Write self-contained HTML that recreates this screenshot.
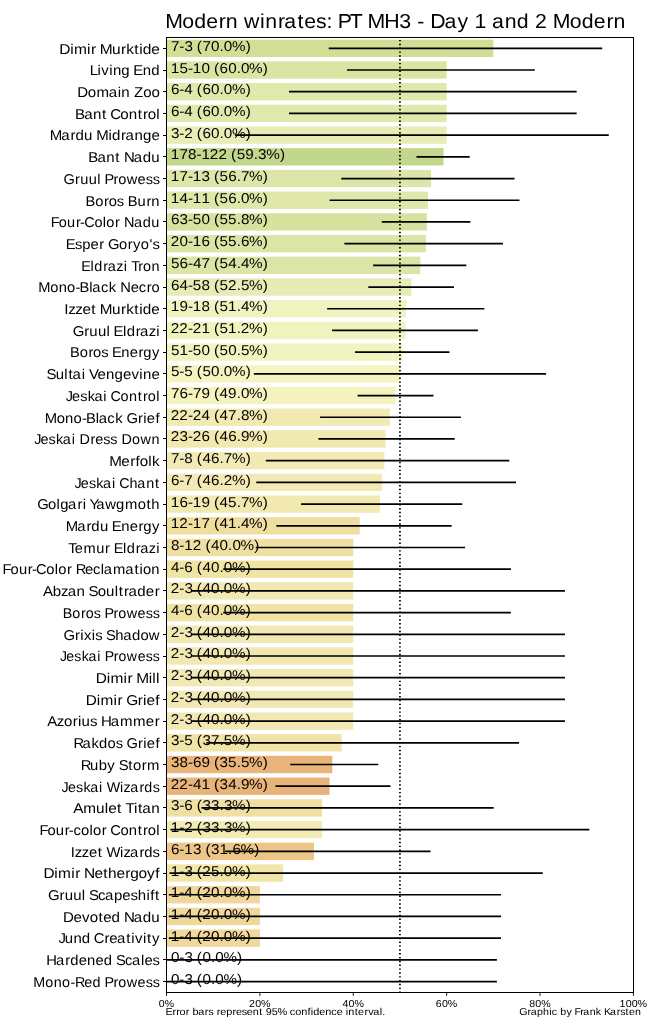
<!DOCTYPE html><html><head><meta charset="utf-8"><style>html,body{margin:0;padding:0;background:#fff;width:650px;height:1029px;overflow:hidden}svg{display:block;will-change:transform}text{font-family:"Liberation Sans",sans-serif;fill:#000;text-rendering:geometricPrecision}</style></head><body>
<svg width="650" height="1029" viewBox="0 0 650 1029">
<rect x="0" y="0" width="650" height="1029" fill="#fff"/>
<rect x="166.50" y="39.63" width="326.83" height="17.36" fill="#d1de94"/>
<rect x="166.50" y="61.33" width="280.14" height="17.36" fill="#dbe5a3"/>
<rect x="166.50" y="83.04" width="280.14" height="17.36" fill="#e0e8ab"/>
<rect x="166.50" y="104.74" width="280.14" height="17.36" fill="#e0e8ab"/>
<rect x="166.50" y="126.44" width="280.14" height="17.36" fill="#e8edb6"/>
<rect x="166.50" y="148.15" width="277.03" height="17.36" fill="#c2d68c"/>
<rect x="166.50" y="169.85" width="264.58" height="17.36" fill="#dde6a8"/>
<rect x="166.50" y="191.55" width="261.46" height="17.36" fill="#dfe7aa"/>
<rect x="166.50" y="213.26" width="260.31" height="17.36" fill="#d8e29e"/>
<rect x="166.50" y="234.96" width="259.39" height="17.36" fill="#dde5a6"/>
<rect x="166.50" y="256.66" width="253.85" height="17.36" fill="#dde5a6"/>
<rect x="166.50" y="278.37" width="244.93" height="17.36" fill="#e7ecb6"/>
<rect x="166.50" y="300.07" width="239.76" height="17.36" fill="#f0f2bf"/>
<rect x="166.50" y="321.77" width="238.88" height="17.36" fill="#eff3be"/>
<rect x="166.50" y="343.47" width="235.76" height="17.36" fill="#f2f4c0"/>
<rect x="166.50" y="365.18" width="233.45" height="17.36" fill="#f5f3c0"/>
<rect x="166.50" y="386.88" width="228.93" height="17.36" fill="#f4f3c0"/>
<rect x="166.50" y="408.58" width="223.30" height="17.36" fill="#f1eab2"/>
<rect x="166.50" y="430.29" width="219.16" height="17.36" fill="#f2e9b0"/>
<rect x="166.50" y="451.99" width="217.89" height="17.36" fill="#f2eab4"/>
<rect x="166.50" y="473.69" width="215.49" height="17.36" fill="#f2eab4"/>
<rect x="166.50" y="495.40" width="213.44" height="17.36" fill="#f2e9b0"/>
<rect x="166.50" y="517.10" width="193.20" height="17.36" fill="#f0dea0"/>
<rect x="166.50" y="538.80" width="186.76" height="17.36" fill="#efe0a2"/>
<rect x="166.50" y="560.51" width="186.76" height="17.36" fill="#f0e4a5"/>
<rect x="166.50" y="582.21" width="186.76" height="17.36" fill="#f2e8b4"/>
<rect x="166.50" y="603.91" width="186.76" height="17.36" fill="#f0e4a5"/>
<rect x="166.50" y="625.62" width="186.76" height="17.36" fill="#f2e8b4"/>
<rect x="166.50" y="647.32" width="186.76" height="17.36" fill="#f2e8b4"/>
<rect x="166.50" y="669.02" width="186.76" height="17.36" fill="#f2e8b4"/>
<rect x="166.50" y="690.73" width="186.76" height="17.36" fill="#f2e8b4"/>
<rect x="166.50" y="712.43" width="186.76" height="17.36" fill="#f2e8b4"/>
<rect x="166.50" y="734.13" width="175.09" height="17.36" fill="#f1e4a8"/>
<rect x="166.50" y="755.84" width="165.81" height="17.36" fill="#e9b47a"/>
<rect x="166.50" y="777.54" width="163.04" height="17.36" fill="#e8b37a"/>
<rect x="166.50" y="799.24" width="155.63" height="17.36" fill="#f0dfa2"/>
<rect x="166.50" y="820.94" width="155.63" height="17.36" fill="#f3ebb4"/>
<rect x="166.50" y="842.65" width="147.44" height="17.36" fill="#ecc587"/>
<rect x="166.50" y="864.35" width="116.72" height="17.36" fill="#f1e5a8"/>
<rect x="166.50" y="886.05" width="93.38" height="17.36" fill="#f0d89c"/>
<rect x="166.50" y="907.76" width="93.38" height="17.36" fill="#f0d89c"/>
<rect x="166.50" y="929.46" width="93.38" height="17.36" fill="#f0d89c"/>
<line x1="399.95" y1="37.46" x2="399.95" y2="992.40" stroke="#000" stroke-width="1.8" stroke-dasharray="1.4 2.437" stroke-dashoffset="1.397"/>
<text transform="scale(1.07191,1)" x="159.45 167.33 172.02 179.97 183.66 188.85 196.87 204.83 208.85 216.45 229.17" y="50.80" font-size="14.2">7-3 (70.0%)</text>
<text transform="scale(1.07410,1)" x="159.06 167.07 174.95 179.53 187.59 195.54 199.23 204.43 212.40 220.35 224.36 231.94 244.65" y="72.50" font-size="14.2">15-10 (60.0%)</text>
<text transform="scale(1.07191,1)" x="159.48 167.33 172.00 179.97 183.66 188.88 196.87 204.83 208.85 216.45 229.17" y="94.21" font-size="14.2">6-4 (60.0%)</text>
<text transform="scale(1.07191,1)" x="159.48 167.33 172.00 179.97 183.66 188.88 196.87 204.83 208.85 216.45 229.17" y="115.91" font-size="14.2">6-4 (60.0%)</text>
<text transform="scale(1.07191,1)" x="159.50 167.33 171.83 179.97 183.66 188.88 196.87 204.83 208.85 216.45 229.17" y="137.61" font-size="14.2">3-2 (60.0%)</text>
<text transform="scale(1.07563,1)" x="158.83 166.85 174.84 182.66 187.23 195.11 203.07 211.18 214.86 220.01 227.98 235.96 239.98 247.52 260.22" y="159.32" font-size="14.2">178-122 (59.3%)</text>
<text transform="scale(1.07410,1)" x="159.06 167.09 174.95 179.53 187.61 195.54 199.23 204.38 212.40 220.35 224.33 231.94 244.65" y="181.02" font-size="14.2">17-13 (56.7%)</text>
<text transform="scale(1.07410,1)" x="159.06 167.12 174.95 179.53 187.50 195.54 199.23 204.38 212.40 220.35 224.36 231.94 244.65" y="202.72" font-size="14.2">14-11 (56.0%)</text>
<text transform="scale(1.07410,1)" x="159.14 167.14 174.95 179.57 187.59 195.54 199.23 204.38 212.36 220.35 224.36 231.94 244.65" y="224.43" font-size="14.2">63-50 (55.8%)</text>
<text transform="scale(1.07410,1)" x="158.98 167.12 174.95 179.53 187.58 195.54 199.23 204.38 212.36 220.35 224.36 231.94 244.65" y="246.13" font-size="14.2">20-16 (55.6%)</text>
<text transform="scale(1.07410,1)" x="159.10 167.12 174.95 179.61 187.56 195.54 199.23 204.38 212.41 220.35 224.36 231.94 244.65" y="267.83" font-size="14.2">56-47 (54.4%)</text>
<text transform="scale(1.07410,1)" x="159.14 167.12 174.95 179.57 187.59 195.54 199.23 204.38 212.24 220.35 224.31 231.94 244.65" y="289.54" font-size="14.2">64-58 (52.5%)</text>
<text transform="scale(1.07410,1)" x="159.06 167.08 174.95 179.53 187.59 195.54 199.23 204.38 212.32 220.35 224.36 231.94 244.65" y="311.24" font-size="14.2">19-18 (51.4%)</text>
<text transform="scale(1.07410,1)" x="158.98 166.95 174.95 179.45 187.50 195.54 199.23 204.38 212.32 220.35 224.19 231.94 244.65" y="332.94" font-size="14.2">22-21 (51.2%)</text>
<text transform="scale(1.07410,1)" x="159.10 167.04 174.95 179.57 187.59 195.54 199.23 204.38 212.40 220.35 224.31 231.94 244.65" y="354.64" font-size="14.2">51-50 (50.5%)</text>
<text transform="scale(1.07191,1)" x="159.43 167.33 171.95 179.97 183.66 188.83 196.87 204.83 208.85 216.45 229.17" y="376.35" font-size="14.2">5-5 (50.0%)</text>
<text transform="scale(1.07410,1)" x="159.12 167.12 174.95 179.59 187.55 195.54 199.23 204.43 212.36 220.35 224.36 231.94 244.65" y="398.05" font-size="14.2">76-79 (49.0%)</text>
<text transform="scale(1.07410,1)" x="158.98 166.95 174.95 179.45 187.59 195.54 199.23 204.43 212.38 220.35 224.36 231.94 244.65" y="419.75" font-size="14.2">22-24 (47.8%)</text>
<text transform="scale(1.07410,1)" x="158.98 167.14 174.95 179.45 187.58 195.54 199.23 204.43 212.40 220.35 224.32 231.94 244.65" y="441.46" font-size="14.2">23-26 (46.9%)</text>
<text transform="scale(1.07191,1)" x="159.45 167.33 172.00 179.97 183.66 188.88 196.86 204.83 208.82 216.45 229.17" y="463.16" font-size="14.2">7-8 (46.7%)</text>
<text transform="scale(1.07191,1)" x="159.48 167.33 171.97 179.97 183.66 188.88 196.86 204.83 208.68 216.45 229.17" y="484.86" font-size="14.2">6-7 (46.2%)</text>
<text transform="scale(1.07410,1)" x="159.06 167.12 174.95 179.53 187.55 195.54 199.23 204.43 212.36 220.35 224.33 231.94 244.65" y="506.57" font-size="14.2">16-19 (45.7%)</text>
<text transform="scale(1.07410,1)" x="159.06 166.95 174.95 179.53 187.56 195.54 199.23 204.43 212.32 220.35 224.36 231.94 244.65" y="528.27" font-size="14.2">12-17 (41.4%)</text>
<text transform="scale(1.07311,1)" x="159.30 167.14 171.72 179.62 187.74 191.43 196.64 204.62 212.58 216.59 224.18 236.89" y="549.97" font-size="14.2">8-12 (40.0%)</text>
<text transform="scale(1.07191,1)" x="159.48 167.33 172.00 179.97 183.66 188.88 196.87 204.83 208.85 216.45 229.17" y="571.68" font-size="14.2">4-6 (40.0%)</text>
<text transform="scale(1.07191,1)" x="159.31 167.33 172.02 179.97 183.66 188.88 196.87 204.83 208.85 216.45 229.17" y="593.38" font-size="14.2">2-3 (40.0%)</text>
<text transform="scale(1.07191,1)" x="159.48 167.33 172.00 179.97 183.66 188.88 196.87 204.83 208.85 216.45 229.17" y="615.08" font-size="14.2">4-6 (40.0%)</text>
<text transform="scale(1.07191,1)" x="159.31 167.33 172.02 179.97 183.66 188.88 196.87 204.83 208.85 216.45 229.17" y="636.79" font-size="14.2">2-3 (40.0%)</text>
<text transform="scale(1.07191,1)" x="159.31 167.33 172.02 179.97 183.66 188.88 196.87 204.83 208.85 216.45 229.17" y="658.49" font-size="14.2">2-3 (40.0%)</text>
<text transform="scale(1.07191,1)" x="159.31 167.33 172.02 179.97 183.66 188.88 196.87 204.83 208.85 216.45 229.17" y="680.19" font-size="14.2">2-3 (40.0%)</text>
<text transform="scale(1.07191,1)" x="159.31 167.33 172.02 179.97 183.66 188.88 196.87 204.83 208.85 216.45 229.17" y="701.90" font-size="14.2">2-3 (40.0%)</text>
<text transform="scale(1.07191,1)" x="159.31 167.33 172.02 179.97 183.66 188.88 196.87 204.83 208.85 216.45 229.17" y="723.60" font-size="14.2">2-3 (40.0%)</text>
<text transform="scale(1.07191,1)" x="159.50 167.33 171.95 179.97 183.66 188.90 196.84 204.83 208.80 216.45 229.17" y="745.30" font-size="14.2">3-5 (37.5%)</text>
<text transform="scale(1.07410,1)" x="159.17 167.12 174.95 179.61 187.55 195.54 199.23 204.45 212.36 220.35 224.31 231.94 244.65" y="767.00" font-size="14.2">38-69 (35.5%)</text>
<text transform="scale(1.07410,1)" x="158.98 166.95 174.95 179.61 187.50 195.54 199.23 204.45 212.41 220.35 224.32 231.94 244.65" y="788.71" font-size="14.2">22-41 (34.9%)</text>
<text transform="scale(1.07191,1)" x="159.50 167.33 172.00 179.97 183.66 188.90 196.89 204.83 208.87 216.45 229.17" y="810.41" font-size="14.2">3-6 (33.3%)</text>
<text transform="scale(1.07191,1)" x="159.40 167.33 171.83 179.97 183.66 188.90 196.89 204.83 208.87 216.45 229.17" y="832.11" font-size="14.2">1-2 (33.3%)</text>
<text transform="scale(1.07311,1)" x="159.29 167.14 171.72 179.80 187.74 191.43 196.66 204.54 212.58 216.59 224.18 236.89" y="853.82" font-size="14.2">6-13 (31.6%)</text>
<text transform="scale(1.07191,1)" x="159.40 167.33 172.02 179.97 183.66 188.71 196.82 204.83 208.85 216.45 229.17" y="875.52" font-size="14.2">1-3 (25.0%)</text>
<text transform="scale(1.07191,1)" x="159.40 167.33 172.00 179.97 183.66 188.71 196.87 204.83 208.85 216.45 229.17" y="897.22" font-size="14.2">1-4 (20.0%)</text>
<text transform="scale(1.07191,1)" x="159.40 167.33 172.00 179.97 183.66 188.71 196.87 204.83 208.85 216.45 229.17" y="918.93" font-size="14.2">1-4 (20.0%)</text>
<text transform="scale(1.07191,1)" x="159.40 167.33 172.00 179.97 183.66 188.71 196.87 204.83 208.85 216.45 229.17" y="940.63" font-size="14.2">1-4 (20.0%)</text>
<text transform="scale(1.07043,1)" x="159.70 167.56 172.26 180.22 183.92 189.15 197.12 201.14 208.76 221.49" y="962.33" font-size="14.2">0-3 (0.0%)</text>
<text transform="scale(1.07043,1)" x="159.70 167.56 172.26 180.22 183.92 189.15 197.12 201.14 208.76 221.49" y="984.04" font-size="14.2">0-3 (0.0%)</text>
<line x1="328.77" y1="48.31" x2="602.24" y2="48.31" stroke="#000" stroke-width="1.7"/>
<line x1="347.03" y1="70.01" x2="534.77" y2="70.01" stroke="#000" stroke-width="1.7"/>
<line x1="289.00" y1="91.72" x2="576.65" y2="91.72" stroke="#000" stroke-width="1.7"/>
<line x1="289.00" y1="113.42" x2="576.65" y2="113.42" stroke="#000" stroke-width="1.7"/>
<line x1="234.96" y1="135.12" x2="608.77" y2="135.12" stroke="#000" stroke-width="1.7"/>
<line x1="416.47" y1="156.83" x2="469.71" y2="156.83" stroke="#000" stroke-width="1.7"/>
<line x1="341.25" y1="178.53" x2="514.52" y2="178.53" stroke="#000" stroke-width="1.7"/>
<line x1="329.58" y1="200.23" x2="519.47" y2="200.23" stroke="#000" stroke-width="1.7"/>
<line x1="381.77" y1="221.94" x2="470.41" y2="221.94" stroke="#000" stroke-width="1.7"/>
<line x1="344.38" y1="243.64" x2="502.97" y2="243.64" stroke="#000" stroke-width="1.7"/>
<line x1="373.15" y1="265.34" x2="466.34" y2="265.34" stroke="#000" stroke-width="1.7"/>
<line x1="368.31" y1="287.05" x2="453.98" y2="287.05" stroke="#000" stroke-width="1.7"/>
<line x1="327.11" y1="308.75" x2="484.36" y2="308.75" stroke="#000" stroke-width="1.7"/>
<line x1="332.08" y1="330.45" x2="477.90" y2="330.45" stroke="#000" stroke-width="1.7"/>
<line x1="354.96" y1="352.16" x2="449.42" y2="352.16" stroke="#000" stroke-width="1.7"/>
<line x1="253.85" y1="373.86" x2="546.05" y2="373.86" stroke="#000" stroke-width="1.7"/>
<line x1="357.58" y1="395.56" x2="433.46" y2="395.56" stroke="#000" stroke-width="1.7"/>
<line x1="320.05" y1="417.27" x2="460.90" y2="417.27" stroke="#000" stroke-width="1.7"/>
<line x1="318.40" y1="438.97" x2="454.70" y2="438.97" stroke="#000" stroke-width="1.7"/>
<line x1="265.79" y1="460.67" x2="509.27" y2="460.67" stroke="#000" stroke-width="1.7"/>
<line x1="256.25" y1="482.38" x2="516.05" y2="482.38" stroke="#000" stroke-width="1.7"/>
<line x1="301.09" y1="504.08" x2="462.30" y2="504.08" stroke="#000" stroke-width="1.7"/>
<line x1="276.33" y1="525.78" x2="451.61" y2="525.78" stroke="#000" stroke-width="1.7"/>
<line x1="255.77" y1="547.48" x2="465.06" y2="547.48" stroke="#000" stroke-width="1.7"/>
<line x1="223.25" y1="569.19" x2="510.90" y2="569.19" stroke="#000" stroke-width="1.7"/>
<line x1="191.13" y1="590.89" x2="564.94" y2="590.89" stroke="#000" stroke-width="1.7"/>
<line x1="223.25" y1="612.59" x2="510.90" y2="612.59" stroke="#000" stroke-width="1.7"/>
<line x1="191.13" y1="634.30" x2="564.94" y2="634.30" stroke="#000" stroke-width="1.7"/>
<line x1="191.13" y1="656.00" x2="564.94" y2="656.00" stroke="#000" stroke-width="1.7"/>
<line x1="191.13" y1="677.70" x2="564.94" y2="677.70" stroke="#000" stroke-width="1.7"/>
<line x1="191.13" y1="699.41" x2="564.94" y2="699.41" stroke="#000" stroke-width="1.7"/>
<line x1="191.13" y1="721.11" x2="564.94" y2="721.11" stroke="#000" stroke-width="1.7"/>
<line x1="206.30" y1="742.81" x2="519.07" y2="742.81" stroke="#000" stroke-width="1.7"/>
<line x1="290.23" y1="764.52" x2="378.25" y2="764.52" stroke="#000" stroke-width="1.7"/>
<line x1="275.46" y1="786.22" x2="390.49" y2="786.22" stroke="#000" stroke-width="1.7"/>
<line x1="201.45" y1="807.92" x2="493.66" y2="807.92" stroke="#000" stroke-width="1.7"/>
<line x1="170.42" y1="829.63" x2="589.37" y2="829.63" stroke="#000" stroke-width="1.7"/>
<line x1="225.22" y1="851.33" x2="430.53" y2="851.33" stroke="#000" stroke-width="1.7"/>
<line x1="169.45" y1="873.03" x2="542.77" y2="873.03" stroke="#000" stroke-width="1.7"/>
<line x1="168.86" y1="894.74" x2="501.00" y2="894.74" stroke="#000" stroke-width="1.7"/>
<line x1="168.86" y1="916.44" x2="501.00" y2="916.44" stroke="#000" stroke-width="1.7"/>
<line x1="168.86" y1="938.14" x2="501.00" y2="938.14" stroke="#000" stroke-width="1.7"/>
<line x1="166.50" y1="959.85" x2="496.88" y2="959.85" stroke="#000" stroke-width="1.7"/>
<line x1="166.50" y1="981.55" x2="496.88" y2="981.55" stroke="#000" stroke-width="1.7"/>
<rect x="166.5" y="37.5" width="467" height="955" fill="none" stroke="#000" stroke-width="1"/>
<line x1="163" y1="48.50" x2="166.50" y2="48.50" stroke="#000" stroke-width="1"/>
<text transform="scale(1.09279,1)" x="54.23 64.24 67.63 79.65 83.30 87.97 91.30 102.45 110.69 115.45 122.91 127.47 130.65 138.43" y="53.60" font-size="14.2">Dimir Murktide</text>
<line x1="163" y1="70.50" x2="166.50" y2="70.50" stroke="#000" stroke-width="1"/>
<text transform="scale(1.05295,1)" x="85.21 92.68 96.25 103.78 107.26 115.26 123.39 126.63 135.59 143.60" y="75.30" font-size="14.2">Living End</text>
<line x1="163" y1="91.50" x2="166.50" y2="91.50" stroke="#000" stroke-width="1"/>
<text transform="scale(1.06198,1)" x="72.79 82.72 90.82 102.31 110.82 114.24 122.22 126.20 134.81 142.56" y="97.01" font-size="14.2">Domain Zoo</text>
<line x1="163" y1="113.50" x2="166.50" y2="113.50" stroke="#000" stroke-width="1"/>
<text transform="scale(1.06625,1)" x="70.40 78.92 87.30 95.69 100.20 103.38 112.90 120.78 129.16 134.09 138.47 146.45" y="118.71" font-size="14.2">Bant Control</text>
<line x1="163" y1="135.50" x2="166.50" y2="135.50" stroke="#000" stroke-width="1"/>
<text transform="scale(1.05872,1)" x="47.02 57.86 66.66 71.21 79.31 87.36 90.92 102.50 105.86 114.37 118.57 127.01 134.98 143.01" y="140.41" font-size="14.2">Mardu Midrange</text>
<line x1="163" y1="156.50" x2="166.50" y2="156.50" stroke="#000" stroke-width="1"/>
<text transform="scale(1.05670,1)" x="83.62 92.21 100.67 109.11 113.67 117.29 126.64 135.01 143.12" y="162.12" font-size="14.2">Bant Nadu</text>
<line x1="163" y1="178.50" x2="166.50" y2="178.50" stroke="#000" stroke-width="1"/>
<text transform="scale(1.02709,1)" x="61.92 73.09 78.07 86.37 94.74 98.25 101.72 110.54 115.12 123.30 133.89 141.80 148.62" y="183.82" font-size="14.2">Gruul Prowess</text>
<line x1="163" y1="200.50" x2="166.50" y2="200.50" stroke="#000" stroke-width="1"/>
<text transform="scale(1.03853,1)" x="82.42 91.64 100.08 104.61 112.43 119.35 123.05 132.39 141.00 145.75" y="205.52" font-size="14.2">Boros Burn</text>
<line x1="163" y1="221.50" x2="166.50" y2="221.50" stroke="#000" stroke-width="1"/>
<text transform="scale(1.02400,1)" x="49.61 57.36 65.51 74.23 78.22 82.33 92.20 100.41 103.88 112.42 117.36 121.20 130.82 139.44 147.82" y="227.23" font-size="14.2">Four-Color Nadu</text>
<line x1="163" y1="243.50" x2="166.50" y2="243.50" stroke="#000" stroke-width="1"/>
<text transform="scale(1.04109,1)" x="63.17 71.95 79.00 87.02 95.44 100.31 103.83 114.36 122.78 127.83 135.22 143.53 146.58" y="248.93" font-size="14.2">Esper Goryo&#39;s</text>
<line x1="163" y1="265.50" x2="166.50" y2="265.50" stroke="#000" stroke-width="1"/>
<text transform="scale(1.01693,1)" x="79.89 89.11 92.70 101.52 105.96 114.45 121.67 125.21 128.99 136.02 140.67 148.93" y="270.63" font-size="14.2">Eldrazi Tron</text>
<line x1="163" y1="287.50" x2="166.50" y2="287.50" stroke="#000" stroke-width="1"/>
<text transform="scale(1.03659,1)" x="36.95 48.49 56.59 64.65 72.78 76.71 86.15 89.05 97.34 104.90 112.22 115.97 126.03 133.80 141.61 146.15" y="292.34" font-size="14.2">Mono-Black Necro</text>
<line x1="163" y1="308.50" x2="166.50" y2="308.50" stroke="#000" stroke-width="1"/>
<text transform="scale(1.07692,1)" x="59.78 63.39 69.94 76.62 84.83 89.30 92.73 104.01 112.36 117.21 124.75 129.38 132.63 140.53" y="314.04" font-size="14.2">Izzet Murktide</text>
<line x1="163" y1="330.50" x2="166.50" y2="330.50" stroke="#000" stroke-width="1"/>
<text transform="scale(1.05217,1)" x="69.15 80.10 84.95 93.05 101.27 104.68 107.93 116.96 120.36 128.92 133.16 141.39 148.44" y="335.74" font-size="14.2">Gruul Eldrazi</text>
<line x1="163" y1="352.50" x2="166.50" y2="352.50" stroke="#000" stroke-width="1"/>
<text transform="scale(1.03787,1)" x="67.52 76.75 85.19 89.72 97.55 104.47 107.81 116.88 124.97 133.41 138.07 146.48" y="357.44" font-size="14.2">Boros Energy</text>
<line x1="163" y1="373.50" x2="166.50" y2="373.50" stroke="#000" stroke-width="1"/>
<text transform="scale(1.05644,1)" x="43.97 52.73 60.93 64.77 68.73 77.27 80.66 84.27 92.37 100.32 108.31 116.36 124.41 131.93 135.38 143.33" y="379.15" font-size="14.2">Sultai Vengevine</text>
<line x1="163" y1="395.50" x2="166.50" y2="395.50" stroke="#000" stroke-width="1"/>
<text transform="scale(1.01894,1)" x="64.58 70.79 78.76 86.02 92.66 101.42 104.95 108.42 118.33 126.57 135.26 140.45 145.08 153.32" y="400.85" font-size="14.2">Jeskai Control</text>
<line x1="163" y1="417.50" x2="166.50" y2="417.50" stroke="#000" stroke-width="1"/>
<text transform="scale(1.04454,1)" x="42.85 54.30 62.35 70.34 78.43 82.30 91.70 94.56 102.79 110.29 117.57 121.06 132.08 137.08 140.47 148.81" y="422.55" font-size="14.2">Mono-Black Grief</text>
<line x1="163" y1="438.50" x2="166.50" y2="438.50" stroke="#000" stroke-width="1"/>
<text transform="scale(1.01479,1)" x="33.67 39.91 47.91 55.20 61.87 70.65 74.20 78.27 89.09 93.79 101.79 108.70 115.74 119.81 130.13 138.42 149.25" y="444.26" font-size="14.2">Jeskai Dress Down</text>
<line x1="163" y1="460.50" x2="166.50" y2="460.50" stroke="#000" stroke-width="1"/>
<text transform="scale(1.07189,1)" x="101.94 113.20 121.41 126.53 130.45 138.40 141.87" y="465.96" font-size="14.2">Merfolk</text>
<line x1="163" y1="482.50" x2="166.50" y2="482.50" stroke="#000" stroke-width="1"/>
<text transform="scale(1.01127,1)" x="73.66 79.93 87.95 95.27 101.96 110.76 114.32 117.85 127.97 135.75 144.57 153.30" y="487.66" font-size="14.2">Jeskai Chant</text>
<line x1="163" y1="504.50" x2="166.50" y2="504.50" stroke="#000" stroke-width="1"/>
<text transform="scale(1.04428,1)" x="35.59 46.09 54.19 57.63 65.23 74.14 79.14 82.57 85.79 92.18 100.71 111.18 119.68 131.83 140.23 144.90" y="509.37" font-size="14.2">Golgari Yawgmoth</text>
<line x1="163" y1="525.50" x2="166.50" y2="525.50" stroke="#000" stroke-width="1"/>
<text transform="scale(1.04910,1)" x="62.66 73.58 82.46 87.05 95.23 103.33 106.60 115.58 123.59 131.96 136.55 144.88" y="531.07" font-size="14.2">Mardu Energy</text>
<line x1="163" y1="547.50" x2="166.50" y2="547.50" stroke="#000" stroke-width="1"/>
<text transform="scale(1.02945,1)" x="66.41 72.61 81.04 93.45 102.12 107.04 110.43 119.58 123.10 131.83 136.19 144.59 151.75" y="552.77" font-size="14.2">Temur Eldrazi</text>
<line x1="163" y1="569.50" x2="166.50" y2="569.50" stroke="#000" stroke-width="1"/>
<text transform="scale(1.03777,1)" x="2.51 10.17 18.21 26.83 30.77 34.79 44.54 52.67 56.07 64.52 69.40 73.00 81.92 89.68 97.17 100.07 108.93 120.64 129.59 134.37 137.76 145.86" y="574.48" font-size="14.2">Four-Color Reclamation</text>
<line x1="163" y1="590.50" x2="166.50" y2="590.50" stroke="#000" stroke-width="1"/>
<text transform="scale(1.05953,1)" x="40.61 49.84 57.59 63.85 72.29 80.28 83.63 92.26 100.14 108.32 112.14 117.11 121.31 129.65 137.68 145.98" y="596.18" font-size="14.2">Abzan Soultrader</text>
<line x1="163" y1="612.50" x2="166.50" y2="612.50" stroke="#000" stroke-width="1"/>
<text transform="scale(1.01403,1)" x="61.79 71.21 79.83 84.49 92.49 99.54 103.10 111.99 116.66 124.95 135.67 143.67 150.58" y="617.88" font-size="14.2">Boros Prowess</text>
<line x1="163" y1="634.50" x2="166.50" y2="634.50" stroke="#000" stroke-width="1"/>
<text transform="scale(1.04583,1)" x="60.63 71.63 76.63 80.21 87.81 91.06 97.94 101.37 110.25 117.76 126.22 134.30 142.31" y="639.59" font-size="14.2">Grixis Shadow</text>
<line x1="163" y1="656.50" x2="166.50" y2="656.50" stroke="#000" stroke-width="1"/>
<text transform="scale(0.99026,1)" x="60.48 66.89 75.07 82.56 89.39 98.33 101.97 105.69 114.75 119.55 128.07 139.02 147.20 154.28" y="661.29" font-size="14.2">Jeskai Prowess</text>
<line x1="163" y1="677.50" x2="166.50" y2="677.50" stroke="#000" stroke-width="1"/>
<text transform="scale(1.08897,1)" x="87.92 97.95 101.37 113.41 117.08 121.77 125.12 136.50 139.93 143.36" y="682.99" font-size="14.2">Dimir Mill</text>
<line x1="163" y1="699.50" x2="166.50" y2="699.50" stroke="#000" stroke-width="1"/>
<text transform="scale(1.08252,1)" x="79.34 89.41 92.88 104.96 108.66 113.37 116.62 127.35 132.21 135.41 143.52" y="704.70" font-size="14.2">Dimir Grief</text>
<line x1="163" y1="721.50" x2="166.50" y2="721.50" stroke="#000" stroke-width="1"/>
<text transform="scale(1.05862,1)" x="44.73 53.67 60.43 68.73 73.68 77.06 84.92 91.73 95.37 104.73 113.37 125.75 137.80 146.10" y="726.40" font-size="14.2">Azorius Hammer</text>
<line x1="163" y1="742.50" x2="166.50" y2="742.50" stroke="#000" stroke-width="1"/>
<text transform="scale(1.03579,1)" x="70.90 79.58 88.30 95.63 103.80 111.65 118.58 122.13 133.22 138.25 141.69 150.09" y="748.10" font-size="14.2">Rakdos Grief</text>
<line x1="163" y1="764.50" x2="166.50" y2="764.50" stroke="#000" stroke-width="1"/>
<text transform="scale(1.04679,1)" x="77.12 86.04 94.29 102.49 109.92 113.35 122.60 127.11 135.50 140.42" y="769.81" font-size="14.2">Ruby Storm</text>
<line x1="163" y1="786.50" x2="166.50" y2="786.50" stroke="#000" stroke-width="1"/>
<text transform="scale(1.00483,1)" x="61.29 67.60 75.67 83.04 89.78 98.62 102.21 106.22 119.54 123.00 129.64 138.84 143.68 151.99" y="791.51" font-size="14.2">Jeskai Wizards</text>
<line x1="163" y1="807.50" x2="166.50" y2="807.50" stroke="#000" stroke-width="1"/>
<text transform="scale(1.07852,1)" x="67.89 77.09 89.02 97.10 100.33 108.52 112.98 116.41 124.33 128.07 131.91 140.20" y="813.21" font-size="14.2">Amulet Titan</text>
<line x1="163" y1="829.50" x2="166.50" y2="829.50" stroke="#000" stroke-width="1"/>
<text transform="scale(1.04475,1)" x="37.76 45.37 53.36 61.93 65.84 70.36 77.60 85.70 89.05 97.45 102.30 105.61 115.31 123.35 131.86 136.91 141.40 149.49" y="834.91" font-size="14.2">Four-color Control</text>
<line x1="163" y1="851.50" x2="166.50" y2="851.50" stroke="#000" stroke-width="1"/>
<text transform="scale(1.04198,1)" x="67.98 71.76 78.54 85.46 93.87 98.49 102.19 115.22 118.49 124.86 133.79 138.42 146.45" y="856.62" font-size="14.2">Izzet Wizards</text>
<line x1="163" y1="873.50" x2="166.50" y2="873.50" stroke="#000" stroke-width="1"/>
<text transform="scale(1.08799,1)" x="39.89 49.92 53.35 65.40 69.07 73.76 77.19 86.83 94.97 99.37 107.11 115.23 119.62 127.39 135.22 142.78" y="878.32" font-size="14.2">Dimir Nethergoyf</text>
<line x1="163" y1="894.50" x2="166.50" y2="894.50" stroke="#000" stroke-width="1"/>
<text transform="scale(1.05779,1)" x="45.41 56.33 61.13 69.19 77.39 80.78 84.14 92.63 99.28 107.78 115.69 123.38 130.23 138.40 142.16 146.47" y="900.02" font-size="14.2">Gruul Scapeshift</text>
<line x1="163" y1="916.50" x2="166.50" y2="916.50" stroke="#000" stroke-width="1"/>
<text transform="scale(1.06351,1)" x="59.13 69.09 77.09 84.31 92.59 97.05 104.86 112.93 116.51 125.80 134.12 142.18" y="921.73" font-size="14.2">Devoted Nadu</text>
<line x1="163" y1="938.50" x2="166.50" y2="938.50" stroke="#000" stroke-width="1"/>
<text transform="scale(1.05319,1)" x="55.51 61.56 69.70 77.71 85.84 89.09 99.24 103.73 111.05 119.90 124.62 128.19 135.72 139.56 144.30" y="943.43" font-size="14.2">Jund Creativity</text>
<line x1="163" y1="959.50" x2="166.50" y2="959.50" stroke="#000" stroke-width="1"/>
<text transform="scale(1.03979,1)" x="44.39 53.90 62.84 67.49 75.67 83.75 91.82 99.81 108.02 111.49 120.11 126.89 135.52 138.95 146.76" y="965.13" font-size="14.2">Hardened Scales</text>
<line x1="163" y1="981.50" x2="166.50" y2="981.50" stroke="#000" stroke-width="1"/>
<text transform="scale(1.01165,1)" x="32.99 44.76 53.07 61.32 69.61 74.08 83.19 91.39 99.78 103.35 112.27 116.94 125.26 136.00 144.02 150.94" y="986.84" font-size="14.2">Mono-Red Prowess</text>
<line x1="166.50" y1="992.40" x2="166.50" y2="995.90" stroke="#000" stroke-width="0.9"/>
<text transform="scale(1.04330,1)" x="152.22 157.84" y="1007.20" font-size="10.1">0%</text>
<line x1="259.88" y1="992.40" x2="259.88" y2="995.90" stroke="#000" stroke-width="0.9"/>
<text transform="scale(1.05554,1)" x="235.87 241.78 247.31" y="1007.20" font-size="10.1">20%</text>
<line x1="353.26" y1="992.40" x2="353.26" y2="995.90" stroke="#000" stroke-width="0.9"/>
<text transform="scale(1.05554,1)" x="324.46 330.24 335.78" y="1007.20" font-size="10.1">40%</text>
<line x1="446.64" y1="992.40" x2="446.64" y2="995.90" stroke="#000" stroke-width="0.9"/>
<text transform="scale(1.05554,1)" x="412.92 418.71 424.25" y="1007.20" font-size="10.1">60%</text>
<line x1="540.02" y1="992.40" x2="540.02" y2="995.90" stroke="#000" stroke-width="0.9"/>
<text transform="scale(1.05554,1)" x="501.39 507.18 512.71" y="1007.20" font-size="10.1">80%</text>
<line x1="633.40" y1="992.40" x2="633.40" y2="995.90" stroke="#000" stroke-width="0.9"/>
<text transform="scale(1.06246,1)" x="583.07 588.87 594.62 600.11" y="1007.20" font-size="10.1">100%</text>
<text transform="scale(1.05509,1)" x="156.58 172.80 184.04 195.55 207.42 214.07 225.50 231.34 246.38 251.33 263.38 269.41 282.02 288.46 299.46 309.38 315.34 320.07 331.40 343.21 348.35 364.15 378.49 389.96 395.58 402.31 407.73 421.27 433.50 444.03 449.78 461.39 466.34 478.43 489.83 501.41 507.03 518.77 523.91 540.12 551.36 562.87 574.75 581.40" y="27.80" font-size="20.2">Modern winrates: PT MH3 - Day 1 and 2 Modern</text>
<text transform="scale(1.08969,1)" x="151.80 158.26 161.72 164.77 170.54 173.88 176.73 181.83 187.95 191.14 195.88 198.97 202.05 207.58 213.41 216.49 221.82 226.50 232.00 237.86 241.02 243.80 249.40 254.76 263.40 266.00 270.95 276.45 282.27 285.22 287.53 293.09 298.60 303.96 308.94 314.43 317.33 319.69 325.56 328.65 334.42 337.85 342.53 348.47 350.81" y="1015.20" font-size="10.0">Error bars represent 95% confidence interval.</text>
<text transform="scale(1.06491,1)" x="487.60 495.33 498.31 504.34 510.01 515.79 518.02 523.15 526.10 531.86 537.07 539.40 544.77 547.76 553.75 559.53 564.63 567.26 572.84 579.08 582.35 587.49 590.68 596.31" y="1015.20" font-size="10.0">Graphic by Frank Karsten</text>
</svg></body></html>
